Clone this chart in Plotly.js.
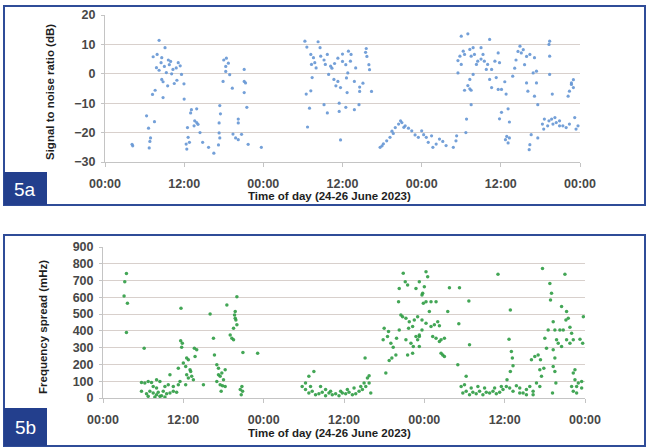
<!DOCTYPE html>
<html>
<head>
<meta charset="utf-8">
<script src="https://cdn.plot.ly/plotly-3.0.1.min.js"></script>
<style>
html,body{margin:0;padding:0;background:#fff;}
#chart{width:647px;height:448px;}
</style>
</head>
<body>
<div id="chart"></div>
<script>
// Time in hours since 24 June 2023 00:00
const timeTickValues = [0, 12, 24, 36, 48, 60, 72];
const timeTickLabels = ['00:00', '12:00', '00:00', '12:00', '00:00', '12:00', '00:00'];
const xTitle = 'Time of day (24-26 June 2023)';
const snrTitle = 'Signal to noise ratio (dB)';
const spreadTitle = 'Frequency spread (mHz)';
const snrTicks = [-30, -20, -10, 0, 10, 20];
const spreadTicks = [0, 100, 200, 300, 400, 500, 600, 700, 800, 900];

// [hour, SNR dB]
const snrPoints = [
[4.1,-24],[4.2,-24.5],[6.7,-25.2],[6.9,-21.8],[6.8,-23],[6.6,-18.5],[6.3,-14.3],[7.5,-16.3],[7.2,-7],[7.6,-5.6],
[8.2,11.4],[9.1,8.9],[7.3,5.8],[7.9,6.6],[8.6,5.5],[7.8,2.1],[8.2,1.2],[8.6,-1.9],[8.8,-2.7],[9.6,4.7],
[9.95,4.2],[9.75,3.1],[9.3,0.4],[10.1,0],[9.5,-4.1],[10.5,-3.3],[11.1,3.8],[11.4,2.7],[11.6,-0.2],[10.9,-2.2],
[11.97,-3.4],[8.8,-8.1],[12.0,-8.6],[13.1,-12.2],[13.9,-11.9],[12.98,-13.3],[13.6,-16],[13.9,-16.6],[14.1,-17.2],[13.5,-17.7],
[12.5,-18.3],[12.6,-21.6],[12.8,-23.3],[12.3,-23.9],[12.4,-25.6],[14.4,-20],[14.8,-23.3],[15.7,-25],[16.5,-27],[17.2,-24.2],
[17.4,-10.8],[17.5,-13.6],[17.3,-16.7],[17.3,-20.1],[17.4,-21.8],[18.0,4.7],[18.4,5.3],[18.7,3.6],[18.3,2.5],[18.3,0.8],
[18.9,-0.3],[17.9,-2.6],[19.3,-4.9],[21.1,1.5],[21.1,-2.6],[21.3,-3.1],[21.1,-6.4],[21.5,-11.4],[20.2,-15.4],[20.2,-16.7],
[19.4,-20.5],[19.8,-21.8],[20.2,-22.4],[20.7,-20.6],[21.7,-24],[23.7,-25],[10.3,1.5],[10.8,2.0],[9.0,2.5],[8.5,3.8],
[30.3,11.1],[30.6,9.1],[32.3,10.9],[32.6,8.9],[31.2,6.6],[31.6,5.5],[31.3,3.2],[31.8,3.8],[32.7,6.0],[33.2,4.7],
[33.7,6.6],[33.4,3.2],[34.2,2.6],[33.9,-0.2],[34.4,1.9],[31.4,-1.3],[30.5,-6.9],[31.2,-5.8],[31.0,-11.7],[30.7,-18.1],
[34.7,-1.9],[35.0,-4.1],[35.7,-4.7],[35.3,-2.6],[33.2,-10.5],[33.7,-13.3],[35.5,-10],[35.5,-12.8],[35.7,-22.5],[35.3,5.3],
[36.0,4.2],[36.5,3.1],[36.0,6.7],[36.9,7.7],[37.3,6.6],[37.2,4.3],[36.8,0.3],[36.6,-1.4],[36.7,-6.4],[36.5,-11.4],
[37.8,-2.6],[37.8,-12.2],[38.5,-10.5],[38.6,-4.5],[38.6,-6],[39.1,-3.2],[39.6,8.6],[39.7,5.9],[40.0,3.1],[40.1,1.4],
[40.4,-6],[39.5,7.3],[32.0,2.0],[34.8,3.5],[38.0,2.0],
[41.7,-25],[42.2,-23.8],[42.7,-22.8],[43.2,-21.6],[43.7,-20.3],[44.0,-18.3],[44.5,-17.1],[45.0,-16.6],[45.5,-17.7],[46.0,-18.5],
[46.5,-19.4],[47.0,-20.8],[47.5,-21.6],[48.3,-20.7],[48.7,-21.6],[49.0,-23.3],[49.5,-21.1],[49.7,-25],[50.2,-23.9],[50.7,-22.2],
[51.2,-23.0],[51.7,-24.4],[52.8,-25],[53.2,-22.8],[53.3,-21.1],[42.0,-24.5],[43.5,-19.5],[44.8,-16.0],[45.3,-18.2],[48.0,-19.4],
[54.8,-15.4],[55.5,-10.5],[55.3,-5.1],[55.0,-4.0],[54.5,-5.6],[55.5,-5.6],[53.5,4.5],[53.5,0.3],[54.0,3.2],[53.8,6.0],
[54.5,6.6],[54.3,7.7],[54.0,12.8],[55.0,13.6],[55.3,8.3],[55.8,8.9],[55.5,6.0],[56.0,6.6],[56.5,4.3],[56.3,3.2],
[55.8,-0.2],[55.3,-1.9],[57.0,8.9],[57.3,6.6],[57.0,5.0],[57.5,4.3],[58.0,3.2],[57.8,1.5],[58.3,11.7],[58.6,1.5],
[59.1,4.3],[59.6,7.1],[59.8,3.8],[59.3,-1.3],[58.3,-1.9],[58.6,-4.7],[59.6,-5.3],[60.1,-5.3],[60.6,-2.7],[60.8,-6.9],
[61.1,-11.9],[60.1,-13.1],[59.8,-15.3],[61.3,-16.4],[60.9,-21.3],[60.7,-22.4],[61.3,-21.8],[61.1,-23.5],[61.8,-0.8],[62.3,4.7],
[62.6,7.6],[63.1,7.1],[63.4,8.2],[62.9,9.4],[63.9,5.9],[63.6,3.1],[62.1,1.9],[64.4,6.6],[65.1,5.5],[65.4,0.9],
[64.9,0.3],[63.9,-3.1],[64.1,-5.9],[65.1,-7.6],[65.6,-10.5],[65.4,-3.1],[67.4,11.1],[67.4,6.0],[67.3,10.0],[67.4,-0.2],
[67.8,-6.9],[64.6,-20.7],[64.3,-25.8],[64.4,-24.1],[65.6,-21.8],[66.6,-15.4],[67.1,-17.7],[67.3,-16.0],[67.7,-15.4],[68.2,-14.9],
[68.4,-16.6],[68.9,-16.0],[69.4,-17.7],[69.9,-18.3],[70.4,-17.1],[71.4,-18.8],[71.7,-17.7],[71.2,-14.9],[66.3,-17.1],[66.5,-18.8],
[68.9,-17.7],[67.9,-17.1],[70.7,-3.1],[71.0,-2.0],[70.4,-5.9],[70.2,-7.6],[71.0,-4.7],[70.7,-3.6],[54.7,-20]
];

// [hour, frequency spread mHz]
const spreadPoints = [
[3.5,742],[3.25,693],[3.15,608],[3.65,564],[3.5,390],[6.15,297],[5.75,93],[6.25,89],[6.75,99],[7.25,93],
[8.0,109],[8.5,99],[5.75,40],[6.5,26],[7.0,40],[7.5,30],[8.0,20],[8.5,10],[9.0,40],[9.5,26],
[10.0,30],[10.5,40],[11.0,34],[6.75,10],[7.75,6],[8.75,14],[9.25,6],[8.25,34],[7.5,69],[8.0,59],
[9.25,69],[9.75,79],[10.5,69],[10.0,139],[11.25,178],[11.5,99],[11.25,79],[11.65,535],[11.6,341],[11.85,327],
[11.75,303],[12.0,208],[12.35,188],[12.75,228],[13.0,168],[12.5,139],[12.75,119],[13.25,129],[13.5,109],[13.1,158],
[12.35,79],[13.75,248],[14.0,287],[13.65,297],[12.5,238],[15.0,79],[16.0,501],[16.5,356],[16.65,257],[17.0,198],
[17.25,139],[17.5,129],[17.75,149],[18.0,109],[18.25,69],[17.5,79],[17.85,73],[17.25,178],[17.0,99],[17.65,40],
[18.25,168],[18.5,554],[20.0,604],[19.75,515],[19.65,495],[19.75,475],[19.85,465],[20.0,436],[19.5,416],[19.0,376],
[19.25,356],[19.5,347],[20.9,271],[23.1,267],[20.75,69],[20.85,40],[20.65,20],[20.5,50],
[29.75,69],[30.25,50],[30.75,30],[31.25,40],[31.75,20],[32.25,26],[32.75,34],[33.25,14],[33.75,30],[34.25,20],
[34.75,26],[35.25,14],[35.75,30],[36.25,26],[36.75,34],[37.25,20],[37.75,26],[38.25,40],[38.75,50],[39.25,69],
[39.75,89],[40.0,30],[39.5,119],[39.75,133],[30.75,129],[31.5,158],[30.25,89],[31.0,69],[32.5,69],[33.25,50],
[34.0,40],[35.5,40],[36.5,50],[37.5,59],[38.5,69],[39.0,89],[39.15,238],[42.25,149],[42.0,416],[42.65,396],
[41.85,347],[42.5,366],[43.0,327],[43.35,303],[43.75,257],[43.15,238],[42.75,224],[43.85,356],[44.25,406],[44.75,485],
[44.5,495],[44.15,574],[44.85,743],[45.15,693],[45.5,673],[44.25,653],[46.75,653],[47.25,693],[47.65,614],[45.25,475],
[45.75,455],[46.25,426],[45.65,416],[46.5,465],[47.0,485],[46.75,366],[47.25,376],[46.0,327],[46.35,307],[47.0,347],
[47.65,406],[45.25,347],[45.5,257],[46.25,267],
[48.25,752],[48.5,723],[48.0,663],[47.75,624],[47.85,564],[48.25,574],[49.0,574],[49.75,574],[48.75,515],[47.65,465],
[48.25,446],[49.0,426],[49.5,436],[50.0,455],[50.25,430],[49.25,366],[49.75,356],[50.5,347],[51.0,356],[50.25,337],
[50.75,257],[51.0,248],[50.5,267],[51.5,515],[51.75,657],[53.25,657],[54.65,578],[53.15,442],[54.75,317],[53.0,198],
[54.25,129],[47.25,366],[47.25,307],
[53.5,69],[53.75,30],[54.25,40],[54.75,20],[55.25,34],[55.75,26],[56.25,40],[56.75,20],[57.25,34],[57.75,30],
[58.25,40],[58.75,26],[59.25,34],[59.75,50],[60.25,69],[60.75,59],[61.25,40],[61.75,73],[62.25,59],[62.75,30],
[63.25,50],[63.75,69],[64.25,40],[64.75,89],[65.25,69],[54.0,79],[55.0,59],[56.0,69],[57.0,59],[58.5,59],
[59.5,69],[62.25,30],[63.25,20],[64.25,20],
[59.0,738],[60.85,525],[60.65,350],[61.0,277],[61.15,238],[61.25,192],[60.85,158],[60.35,109],[64.0,228],[64.5,248],
[65.0,257],[65.35,228],[65.25,168],[65.85,178],[65.5,129],[65.65,772],[66.0,356],[66.25,297],[66.5,406],[66.75,683],
[67.0,624],[66.85,584],[67.25,455],[67.5,406],[67.75,347],[67.25,287],[67.5,238],[67.25,188],[67.5,158],[67.65,89],
[67.15,30],[69.0,738],[68.5,545],[69.25,515],[69.5,475],[69.15,465],[69.75,422],[70.0,386],[68.75,406],[68.25,406],
[68.0,327],[68.5,307],[69.25,347],[69.75,327],[70.25,347],[71.25,350],[71.75,485],[71.65,327],[70.25,149],[70.5,109],
[70.75,69],[71.0,89],[71.5,99],[70.25,40],[70.75,30],[70.0,69],[71.5,59],[70.5,168]
];

const W = 647, H = 448;
const px = v => v / W;
const py = v => 1 - v / H;

const tickFont = {family: 'Liberation Sans, Arial, sans-serif', size: 12.5, color: '#474747', weight: 'bold'};
const titleFont = {family: 'Liberation Sans, Arial, sans-serif', size: 11.5, color: '#1e1e1e', weight: 'bold'};
const gridColor = '#d8d0cc';
const axisColor = '#c4c4c4';
const frameColor = '#2f4c98';
const boxColor = '#233f8d';

const traces = [
  {
    type: 'scatter', mode: 'markers',
    x: snrPoints.map(p => p[0]), y: snrPoints.map(p => p[1]),
    xaxis: 'x', yaxis: 'y',
    marker: {size: 3.2, color: '#6596d4', opacity: 0.9},
    hoverinfo: 'x+y', showlegend: false
  },
  {
    type: 'scatter', mode: 'markers',
    x: spreadPoints.map(p => p[0]), y: spreadPoints.map(p => p[1]),
    xaxis: 'x2', yaxis: 'y2',
    marker: {size: 3.5, color: '#2f9c44', opacity: 0.9},
    hoverinfo: 'x+y', showlegend: false
  }
];

const xCommon = {
  range: [0, 72], tickmode: 'array', tickvals: timeTickValues, ticktext: timeTickLabels,
  showgrid: false, zeroline: false, showline: true, linecolor: axisColor, linewidth: 1,
  ticks: 'outside', ticklen: 4, tickcolor: axisColor, tickfont: tickFont, ticklabelstandoff: 6,
  fixedrange: true
};
const yCommon = {
  showgrid: true, gridcolor: gridColor, gridwidth: 1, zeroline: false,
  showline: true, linecolor: axisColor, linewidth: 1,
  ticks: 'outside', ticklen: 3, tickcolor: axisColor, tickfont: tickFont, ticklabelstandoff: 3,
  fixedrange: true
};

const layout = {
  width: W, height: H,
  margin: {l: 0, r: 0, t: 0, b: 0},
  paper_bgcolor: '#ffffff', plot_bgcolor: '#ffffff',
  showlegend: false,
  xaxis: Object.assign({}, xCommon, {domain: [px(105), px(580)], anchor: 'y'}),
  yaxis: Object.assign({}, yCommon, {domain: [py(162), py(15)], anchor: 'x', range: [-30, 20],
    tickmode: 'array', tickvals: snrTicks}),
  xaxis2: Object.assign({}, xCommon, {domain: [px(103), px(585)], anchor: 'y2'}),
  yaxis2: Object.assign({}, yCommon, {domain: [py(398), py(247)], anchor: 'x2', range: [0, 900],
    tickmode: 'array', tickvals: spreadTicks}),
  shapes: [
    {type: 'rect', xref: 'paper', yref: 'paper', x0: px(4), x1: px(645), y0: py(205), y1: py(6),
      line: {color: frameColor, width: 2}, fillcolor: 'rgba(0,0,0,0)', layer: 'above'},
    {type: 'rect', xref: 'paper', yref: 'paper', x0: px(4), x1: px(645), y0: py(446), y1: py(235),
      line: {color: frameColor, width: 2}, fillcolor: 'rgba(0,0,0,0)', layer: 'above'},
    {type: 'rect', xref: 'paper', yref: 'paper', x0: px(4), x1: px(47), y0: py(205), y1: py(172),
      line: {width: 0}, fillcolor: boxColor, layer: 'above'},
    {type: 'rect', xref: 'paper', yref: 'paper', x0: px(4), x1: px(47), y0: py(446), y1: py(408),
      line: {width: 0}, fillcolor: boxColor, layer: 'above'}
  ],
  annotations: [
    {text: snrTitle, xref: 'paper', yref: 'paper', x: px(50), y: py(92), textangle: -90,
      showarrow: false, font: titleFont, xanchor: 'center', yanchor: 'middle'},
    {text: xTitle, xref: 'paper', yref: 'paper', x: px(330), y: py(196),
      showarrow: false, font: titleFont, xanchor: 'center', yanchor: 'middle'},
    {text: spreadTitle, xref: 'paper', yref: 'paper', x: px(43), y: py(327), textangle: -90,
      showarrow: false, font: titleFont, xanchor: 'center', yanchor: 'middle'},
    {text: xTitle, xref: 'paper', yref: 'paper', x: px(330), y: py(433),
      showarrow: false, font: titleFont, xanchor: 'center', yanchor: 'middle'},
    {text: '5a', xref: 'paper', yref: 'paper', x: px(25.5), y: py(189),
      showarrow: false, font: {family: 'Liberation Sans, Arial, sans-serif', size: 19, color: '#ffffff'},
      xanchor: 'center', yanchor: 'middle'},
    {text: '5b', xref: 'paper', yref: 'paper', x: px(25.5), y: py(427),
      showarrow: false, font: {family: 'Liberation Sans, Arial, sans-serif', size: 19, color: '#ffffff'},
      xanchor: 'center', yanchor: 'middle'}
  ]
};

Plotly.newPlot('chart', traces, layout, {displayModeBar: false, staticPlot: true});
</script>
</body>
</html>
